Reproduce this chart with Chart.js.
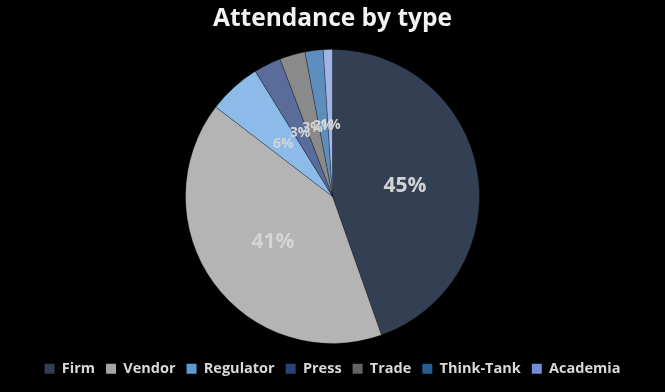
<!DOCTYPE html>
<html>
<head>
<meta charset="utf-8">
<script src="https://cdn.jsdelivr.net/npm/chart.js@4"></script>
<style>
  html, body { margin: 0; padding: 0; background: #000; }
  #wrap { width: 665px; height: 392px; }
</style>
</head>
<body>
<div id="wrap"><canvas id="myPieChart"></canvas></div>
<script>
// Attendance by type
var categories = ['Firm', 'Vendor', 'Regulator', 'Press', 'Trade', 'Think-Tank', 'Academia'];
var values = [44.6, 40.8, 5.8, 3.0, 2.8, 2.0, 1.0];
var sliceColors = ['#333f53', '#b4b4b4', '#8cbbe9', '#5a6d9a', '#8a8a8a', '#5e8ebd', '#a0b4e6'];
var legendColors = ['#333f50', '#a5a5a5', '#5b9bd5', '#264478', '#636363', '#255e91', '#6e8fd8'];

// draw percentage labels on each slice
var pctLabels = {
  id: 'pctLabels',
  afterDatasetsDraw: function (chart) {
    var ctx = chart.ctx;
    var meta = chart.getDatasetMeta(0);
    var total = values.reduce(function (a, b) { return a + b; }, 0);
    ctx.save();
    ctx.textAlign = 'center';
    ctx.textBaseline = 'middle';
    ctx.fillStyle = '#d4d4d4';
    meta.data.forEach(function (arc, i) {
      var pct = Math.round(values[i] / total * 100);
      var size = pct >= 10 ? 21 : 14;
      ctx.font = 'bold ' + size + 'px "Open Sans", sans-serif';
      var p = arc.getCenterPoint();
      ctx.fillText(pct + '%', p.x, p.y + 2);
    });
    ctx.restore();
  }
};

var ctx = document.getElementById('myPieChart');
var myPieChart = new Chart(ctx, {
  type: 'pie',
  data: {
    labels: categories,
    datasets: [{
      data: values,
      backgroundColor: sliceColors,
      borderColor: 'rgba(0,0,0,0.35)',
      borderWidth: 0.75,
      radius: 147
    }]
  },
  options: {
    responsive: true,
    maintainAspectRatio: false,
    animation: false,
    layout: { padding: { top: 4, bottom: 6 } },
    plugins: {
      tooltip: { enabled: false },
      title: {
        display: true,
        text: 'Attendance by type',
        color: '#f2f2f2',
        font: { family: '"Open Sans", sans-serif', size: 24.5, weight: 'bold' },
        padding: { top: 0, bottom: 9 }
      },
      legend: {
        position: 'bottom',
        labels: {
          color: '#d9d9d9',
          font: { family: '"Open Sans", sans-serif', size: 14.5, weight: 'bold' },
          boxWidth: 10,
          boxHeight: 10,
          padding: 11,
          generateLabels: function (chart) {
            return categories.map(function (c, i) {
              return {
                text: c,
                fillStyle: legendColors[i],
                strokeStyle: legendColors[i],
                lineWidth: 0,
                fontColor: '#d9d9d9',
                index: i
              };
            });
          }
        }
      }
    }
  },
  plugins: [pctLabels]
});
</script>
</body>
</html>
